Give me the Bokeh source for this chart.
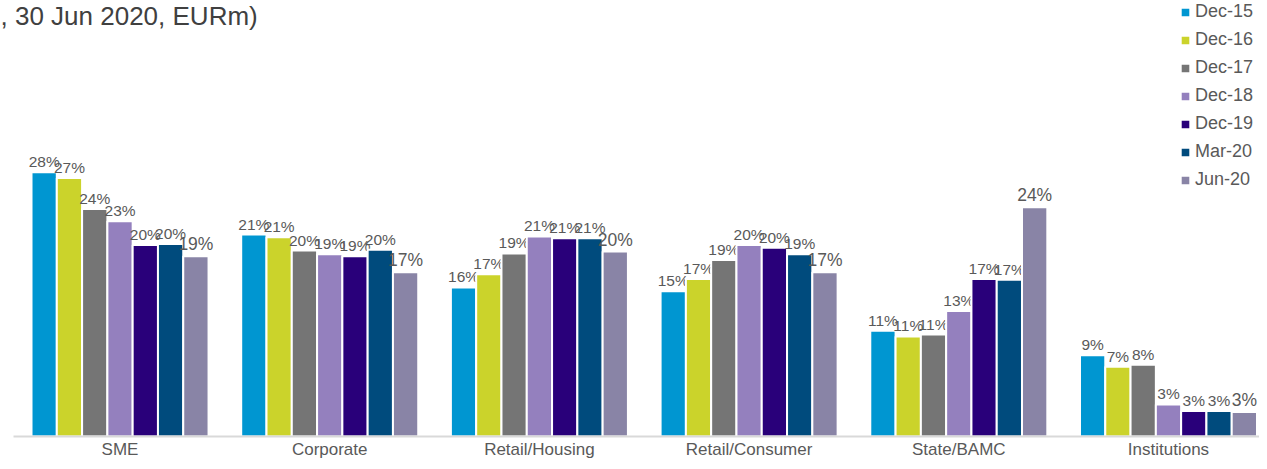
from bokeh.plotting import figure
from bokeh.models import ColumnDataSource, Range1d, FixedTicker, Legend, LegendItem, Label
from bokeh.transform import dodge
from bokeh.core.properties import value
from bokeh.embed import file_html
from bokeh.resources import INLINE

# ---------------- data ----------------
categories = ["SME", "Corporate", "Retail/Housing", "Retail/Consumer", "State/BAMC", "Institutions"]
series = ["Dec-15", "Dec-16", "Dec-17", "Dec-18", "Dec-19", "Mar-20", "Jun-20"]

dec15 = [28.0, 21.4, 15.8, 15.4, 11.2, 8.6]
dec16 = [27.4, 21.1, 17.2, 16.7, 10.6, 7.4]
dec17 = [24.1, 19.7, 19.4, 18.7, 10.8, 7.6]
dec18 = [22.8, 19.3, 21.2, 20.3, 13.3, 3.4]
dec19 = [20.3, 19.1, 21.0, 20.0, 16.7, 2.7]
mar20 = [20.4, 19.8, 21.0, 19.3, 16.6, 2.7]
jun20 = [19.1, 17.4, 19.6, 17.4, 24.3, 2.6]

title_text = ", 30 Jun 2020, EURm)"

# ---------------- styles ----------------
colors = ["#0096D1", "#CBD32B", "#757575", "#9480BE", "#29007A", "#004B7D", "#8984A6"]
FONT = "Liberation Sans"
values_by_series = [dec15, dec16, dec17, dec18, dec19, mar20, jun20]

data = {"x": list(range(len(categories)))}
for name, vals in zip(series, values_by_series):
    data[name] = vals
    data[name + "_lbl"] = [f"{round(v)}%" for v in vals]
source = ColumnDataSource(data)

W, H = 1259, 461
Y_END = 46.2
p = figure(width=W, height=H, output_backend="svg", toolbar_location=None,
           x_range=Range1d(-0.570, 5.434), y_range=Range1d(0, Y_END),
           min_border_left=0, min_border_right=0, min_border_top=0, min_border_bottom=0)
p.outline_line_color = None
p.xgrid.visible = False
p.ygrid.visible = False
p.yaxis.visible = False
p.background_fill_color = "white"

pitch = 0.1206
legend_items = []
for i, name in enumerate(series):
    off = (i - 3) * pitch
    r = p.vbar(x=dodge("x", off), top=name, width=pitch, bottom=0, source=source,
               fill_color=colors[i], line_color="white", line_width=2)
    legend_items.append(LegendItem(label=name, renderers=[r]))
    p.text(x=dodge("x", off), y=name, text=name + "_lbl", source=source,
           text_align="center", text_baseline="bottom", y_offset=-2,
           text_font=value(FONT), text_font_size="17.5px" if name == "Jun-20" else "15.5px",
           text_color="#595959")

ax = p.xaxis[0]
ax.ticker = FixedTicker(ticks=list(range(len(categories))))
ax.major_label_overrides = {i: c for i, c in enumerate(categories)}
ax.major_tick_line_color = None
ax.minor_tick_line_color = None
ax.major_tick_out = 0
ax.major_tick_in = 0
ax.axis_line_color = "#D9D9D9"
ax.axis_line_width = 2
ax.bounds = (-0.508, 5.434)
ax.major_label_standoff = 3
ax.major_label_text_font = FONT
ax.major_label_text_font_size = "17px"
ax.major_label_text_color = "#595959"

legend = Legend(items=legend_items, location=(1179, 246), orientation="vertical",
                padding=0, margin=0, spacing=7, label_height=21, glyph_width=12,
                glyph_height=12, label_standoff=4, border_line_color=None,
                background_fill_alpha=0, label_text_font=FONT,
                label_text_font_size="18px", label_text_color="#595959")
p.add_layout(legend, "center")

title = Label(x=0, y=Y_END, x_units="screen", y_units="data", text=title_text,
              text_baseline="top", text_font=FONT, text_font_size="26px",
              text_color="#404040")
p.add_layout(title)

open("out.html", "w").write(file_html(p, INLINE))
